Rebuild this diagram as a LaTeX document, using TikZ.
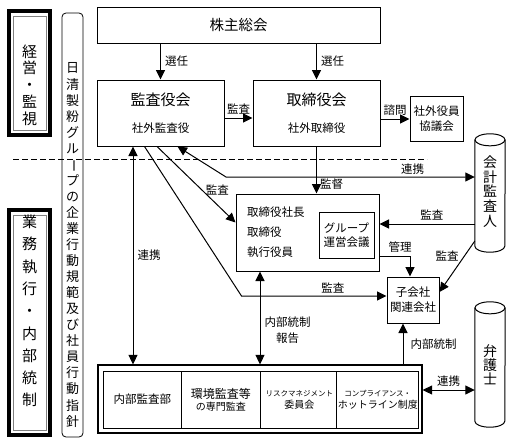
\documentclass[tikz,border=0pt]{standalone}
\usepackage{fontspec}
\setmainfont{Noto Sans CJK JP}
\usetikzlibrary{arrows.meta}
\newcommand{\vbar}{\rotatebox[origin=c]{-90}{ー}}

\begin{document}
\begin{tikzpicture}[x=1pt,y=-1pt]
      \tikzstyle{box}=[draw,line width=1pt,fill=white,inner sep=1pt,align=center]
      \tikzstyle{lbl}=[inner sep=1pt,font=\fontsize{11.5}{13}\selectfont]
      \tikzstyle{arr}=[line width=1pt,-{Triangle[length=9.5pt,width=9pt]}]
      \tikzstyle{darr}=[line width=1pt,{Triangle[length=9.5pt,width=9pt]}-{Triangle[length=9.5pt,width=9pt]}]
      \tikzstyle{vtext}=[align=center,inner sep=0pt]
      \useasboundingbox (0,0) rectangle (512,442);
      % left side
      \draw[line width=4pt] (9,11) rectangle (50,135);
      \draw[line width=0.6pt,gray] (13,16) rectangle (46,130);
      \node[vtext,font=\fontsize{15}{16.75}\selectfont] (keiei) at (29.5,85) {経\\営\\・\\監\\視};
      \draw[line width=4pt] (9,210) rectangle (50,435);
      \draw[line width=0.6pt,gray] (13,215) rectangle (46,430);
      \node[vtext,font=\fontsize{15}{22.3}\selectfont] (gyomu) at (29.5,311) {業\\務\\執\\行\\・\\内\\部\\統\\制};
      \draw[dashed,line width=1pt,dash pattern=on 6pt off 3pt] (13,159) -- (427,159);
      \draw[line width=0.8pt,rounded corners=4pt] (62,13) rectangle (83,437);
      \node[vtext,font=\fontsize{13}{16.05}\selectfont] (kihan) at (72.5,245)
        {日\\清\\製\\粉\\グ\\ル\\\vbar\\プ\\の\\企\\業\\行\\動\\規\\範\\及\\び\\社\\員\\行\\動\\指\\針};
      % boxes
      \node[box,minimum width=283pt,minimum height=36pt,font=\fontsize{14.5}{16}\selectfont] (kabu) at (238.5,25) {株主総会};
      \node[box,minimum width=127pt,minimum height=66pt] (kansa) at (160.5,113)
        {\fontsize{15}{17}\selectfont 監査役会\\[15pt]\fontsize{11.5}{13}\selectfont 社外監査役};
      \node[box,minimum width=127pt,minimum height=66pt] (tori) at (316.5,113)
        {\fontsize{15}{17}\selectfont 取締役会\\[15pt]\fontsize{11.5}{13}\selectfont 社外取締役};
      \node[box,minimum width=53pt,minimum height=45pt,font=\fontsize{11.5}{15}\selectfont] (shagai) at (436.5,118.5) {社外役員\\協議会};
      \node[box,minimum width=143pt,minimum height=77pt,text width=121pt,inner sep=11pt,align=left,
        font=\fontsize{11.5}{20}\selectfont] (shikko) at (307.5,232.5) {取締役社長\\取締役\\執行役員};
      \node[box,minimum width=55pt,minimum height=46pt,font=\fontsize{11.5}{14}\selectfont] (group) at (346.5,235) {グループ\\運営会議};
      \node[box,minimum width=52pt,minimum height=46pt,font=\fontsize{11.5}{15}\selectfont] (kogaisha) at (413,300) {子会社\\関連会社};
      \node[box,line width=1.2pt,minimum width=324pt,minimum height=68pt] (naibu) at (260,399) {};
      \foreach \i/\t in {0/{\fontsize{11.5}{14}\selectfont 内部監査部},
                         1/{\fontsize{12}{15}\selectfont 環境監査等\\の専門監査},
                         2/{\fontsize{7.5}{14}\selectfont リスクマネジメント\\委員会},
                         3/{\fontsize{7.5}{14}\selectfont コンプライアンス・\\ホットライン制度}}
        {\node[box,line width=0.8pt,minimum width=78.5pt,minimum height=57pt] (c\i) at (142.25+78.5*\i,399.5) {\t};}
      % cylinders
      \node[vtext,minimum width=30pt,minimum height=118pt,font=\fontsize{14}{14.75}\selectfont] (kaikei) at (490,193) {\\[-6pt]会\\計\\監\\査\\人};
      \node[vtext,minimum width=30pt,minimum height=125pt,font=\fontsize{14}{14}\selectfont] (bengo) at (490,364.5) {弁\\護\\士};
      \foreach \c in {kaikei,bengo}{
        \draw[line width=1pt] ([yshift=-6pt]\c.north) ellipse [x radius=15pt,y radius=6pt];
        \draw[line width=1pt] ([yshift=-6pt]\c.north west) -- ([yshift=6pt]\c.south west)
          arc[start angle=180,end angle=360,x radius=15pt,y radius=6pt] -- ([yshift=-6pt]\c.north east);
      }
      % connectors
      \draw[arr] (kansa |- kabu.south) -- node[lbl,right=3pt]{選任} (kansa.north);
      \draw[arr] (tori |- kabu.south) -- node[lbl,right=3pt]{選任} (tori.north);
      \draw[arr] ([yshift=-5pt]kansa.east) -- node[lbl,above=2pt]{監査} ([yshift=-5pt]tori.west);
      \draw[arr] ([yshift=-6pt]tori.east) -- node[lbl,above=2pt]{諮問} ([yshift=-6pt]tori.east -| shagai.west);
      \draw[darr] ([xshift=17pt]kansa.south) -- (226,177) -- node[lbl,above=1pt,pos=0.75]{連携} (kaikei.west |- 0,177);
      \draw[arr] (tori.south) -- node[lbl,right=2pt,pos=0.8]{監督} (tori |- shikko.north);
      \draw[arr] ([xshift=-3.5pt]kansa.south) -- node[lbl,pos=0.77,above=8pt]{監査} ([yshift=10pt]shikko.west);
      \draw[arr] ([xshift=-16pt]kansa.south) -- ([xshift=-145pt,yshift=4pt]kogaisha.west)
        -- node[lbl,above=1pt,pos=0.63]{監査} ([yshift=4pt]kogaisha.west);
      \draw[darr] ([xshift=-27.5pt]kansa.south) -- node[lbl,right=3pt]{連携} ([xshift=-27.5pt]kansa.south |- naibu.north);
      \draw[darr] (naibu.north) -- node[lbl,right=3pt,pos=0.37,align=center,font=\fontsize{11.5}{16}\selectfont]{内部統制\\報告} (naibu.north |- shikko.south);
      \draw[arr] ([yshift=-23.5pt]shikko.east) -| node[lbl,above=2pt,pos=0.34]{管理} ([xshift=-3pt]kogaisha.north);
      \coordinate (g1) at ([yshift=8.5pt]shikko.east);
      \draw[arr] (g1 -| kaikei.west) -- node[lbl,above=2pt,pos=0.45]{監査} (g1);
      \draw[arr] ([yshift=-48pt]kaikei.west) -- node[lbl,left=4pt,pos=0.3]{監査} ([yshift=8pt]kogaisha.east);
      \coordinate (k2) at ([xshift=-10pt]kogaisha.south);
      \draw[arr] (k2 |- naibu.north) -- node[lbl,right=6pt]{内部統制} (k2);
      \coordinate (b1) at ([yshift=9pt]naibu.east);
      \draw[darr] (b1) -- node[lbl,above=2pt]{連携} (b1 -| bengo.west);
\end{tikzpicture}
\end{document}
